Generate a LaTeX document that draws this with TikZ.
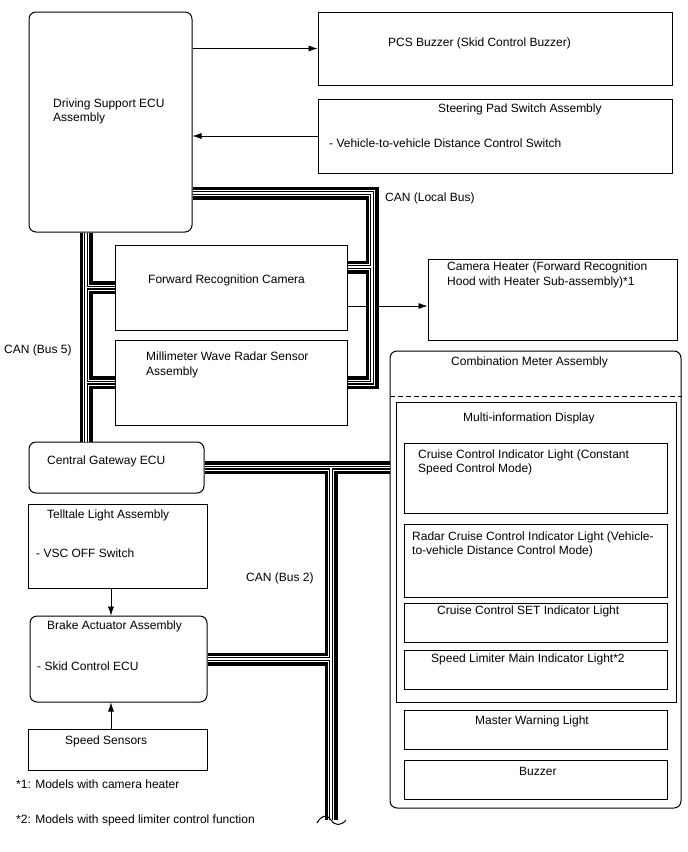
\documentclass[tikz,border=0pt]{standalone}
\usepackage{fontspec}
\setmainfont{Liberation Sans}
\usetikzlibrary{arrows.meta}

\tikzset{
  box/.style={draw, line width=1pt, inner sep=0pt},
  rbox/.style={box, rounded corners=7pt},
  lbl/.style={font=\fontsize{12}{14.5}\selectfont, inner sep=0pt, align=left},
  arr/.style={-{Latex[length=9pt,width=6pt]}, line width=0.6pt},
}

\begin{document}
\begin{tikzpicture}[x=1pt, y=-1pt, line join=miter]

\useasboundingbox (0,0) rectangle (688,852);

% -----------------------
% Boxes
% -----------------------
\node[rbox, minimum width=163pt, minimum height=220pt] (ecu)   at (110.5,122)   {};
\node[box,  minimum width=354pt, minimum height=73pt]  (pcs)   at (495,48.5)    {};
\node[box,  minimum width=354pt, minimum height=74pt]  (steer) at (495,136)     {};
\node[box,  minimum width=232pt, minimum height=85pt]  (cam)   at (231,287.5)   {};
\node[box,  minimum width=232pt, minimum height=85pt]  (radar) at (231,382.5)   {};
\node[box,  minimum width=249pt, minimum height=81pt]  (heat)  at (552.5,299.5) {};
\node[rbox, minimum width=175pt, minimum height=51pt]  (gw)    at (116.5,467.5) {};
\node[box,  minimum width=179pt, minimum height=84pt]  (tell)  at (117.5,546)   {};
\node[rbox, minimum width=177pt, minimum height=86pt]  (brake) at (118.5,659)   {};
\node[box,  minimum width=179pt, minimum height=41pt]  (speed) at (117.5,749.5) {};

% combination meter with its lights
\node[rbox, minimum width=291pt, minimum height=457pt] (cmb)   at (535.5,579.5) {};
\node[box,  minimum width=280pt, minimum height=300pt] (mid)   at (536,552)     {};
\node[box,  minimum width=263pt, minimum height=70pt]  (cc)    at (535.5,478)   {};
\node[box,  minimum width=263pt, minimum height=73pt]  (rc)    at (535.5,560.5) {};
\node[box,  minimum width=263pt, minimum height=39pt]  (set)   at (535.5,622.5) {};
\node[box,  minimum width=263pt, minimum height=39pt]  (lim)   at (535.5,669.5) {};
\node[box,  minimum width=263pt, minimum height=39pt]  (mwl)   at (535.5,729.5) {};
\node[box,  minimum width=263pt, minimum height=39pt]  (buz)   at (535.5,779.5) {};
\draw[line width=0.8pt, dash pattern=on 5pt off 3pt] (cmb.west |- 0,396) -- (cmb.east |- 0,396);

% -----------------------
% Texts
% -----------------------
\node[lbl, anchor=west] (ecut)   at (53,111.5)  {Driving Support ECU\\Assembly};
\node[lbl, anchor=west] (pcst)   at (388,43)    {PCS Buzzer (Skid Control Buzzer)};
\node[lbl, anchor=west] (steert) at (438,109)   {Steering Pad Switch Assembly};
\node[lbl, anchor=west] (steers) at (329,143)   {- Vehicle-to-vehicle Distance Control Switch};
\node[lbl, anchor=west] (camt)   at (148,280)   {Forward Recognition Camera};
\node[lbl, anchor=west] (radart) at (146,365)   {Millimeter Wave Radar Sensor\\Assembly};
\node[lbl, anchor=west] (heatt)  at (447,275)   {Camera Heater (Forward Recognition\\Hood with Heater Sub-assembly)*1};
\node[lbl, anchor=west] (gwt)    at (47,461)    {Central Gateway ECU};
\node[lbl, anchor=west] (tellt)  at (47,515)    {Telltale Light Assembly};
\node[lbl, anchor=west] (tells)  at (36,553)    {- VSC OFF Switch};
\node[lbl, anchor=west] (braket) at (47,626)    {Brake Actuator Assembly};
\node[lbl, anchor=west] (brakes) at (37,666)    {- Skid Control ECU};
\node[lbl, anchor=west] (speedt) at (65,741)    {Speed Sensors};
\node[lbl, anchor=west] (cmbt)   at (451,362)   {Combination Meter Assembly};
\node[lbl, anchor=west] (midt)   at (463,418)   {Multi-information Display};
\node[lbl, anchor=west] (cct)    at (418,462.5) {Cruise Control Indicator Light (Constant\\Speed Control Mode)};
\node[lbl, anchor=west] (rct)    at (412,544.5) {Radar Cruise Control Indicator Light (Vehicle-\\to-vehicle Distance Control Mode)};
\node[lbl, anchor=west] (sett)   at (437,611)   {Cruise Control SET Indicator Light};
\node[lbl, anchor=west] (limt)   at (431,659)   {Speed Limiter Main Indicator Light*2};
\node[lbl, anchor=west] (mwlt)   at (475,721)   {Master Warning Light};
\node[lbl, anchor=west] (buzt)   at (519,771)   {Buzzer};
\node[lbl, anchor=west] (can1)   at (385,198)   {CAN (Local Bus)};
\node[lbl, anchor=west] (can5)   at (4,350)     {CAN (Bus 5)};
\node[lbl, anchor=west] (can2)   at (246,578)   {CAN (Bus 2)};
\node[lbl, anchor=west] (fn1)    at (16,784)    {*1: Models with camera heater};
\node[lbl, anchor=west] (fn2)    at (16,820)    {*2: Models with speed limiter control function};

% -----------------------
% Signal lines
% -----------------------
\draw[arr] (pcs.west -| ecu.east) -- (pcs.west);
\draw[arr] (steer.west) -- (steer.west -| ecu.east);
\draw[arr] ([yshift=-18.5pt]cam.east) -- ([yshift=-18.5pt]cam.east -| heat.west);
\draw[arr] ([xshift=-6.5pt]tell.south) -- ([xshift=-6.5pt]tell.south |- brake.north);
\draw[arr] ([xshift=-6.5pt]speed.north) -- ([xshift=-6.5pt]speed.north |- brake.south);

% -----------------------
% CAN buses (twisted pair look)
% -----------------------
\coordinate (lbtop) at (372,193);
\coordinate (lbcam) at (372,267);
\coordinate (bfive) at (86,0);
\coordinate (btwo)  at (331,0);
\coordinate (bend)  at (331,820);

\foreach \w/\c in {13/black,6/white,4/black,1.5/white}{
  \begin{scope}[line width=\w pt, color=\c]
    % local bus
    \draw (ecu.east |- lbtop) -- (lbtop) |- (radar.east);
    \draw (cam.east |- lbcam) -- (lbcam);
    % bus 5
    \draw (ecu.south -| bfive) -- (gw.north -| bfive);
    \draw (cam.west -| bfive) -- (cam.west);
    \draw (radar.west -| bfive) -- (radar.west);
    % bus 2
    \draw (gw.east) -- (gw.east -| cmb.west);
    \draw (gw.east -| btwo) -- (bend);
    \draw (brake.east) -- (brake.east -| btwo);
  \end{scope}
}

% break mark at the open end of bus 2
\draw[line width=1pt] (317,823) .. controls (322,814) and (328,815) .. (331,820)
  .. controls (335,826) and (341,826) .. (346,820);

\end{tikzpicture}
\end{document}
